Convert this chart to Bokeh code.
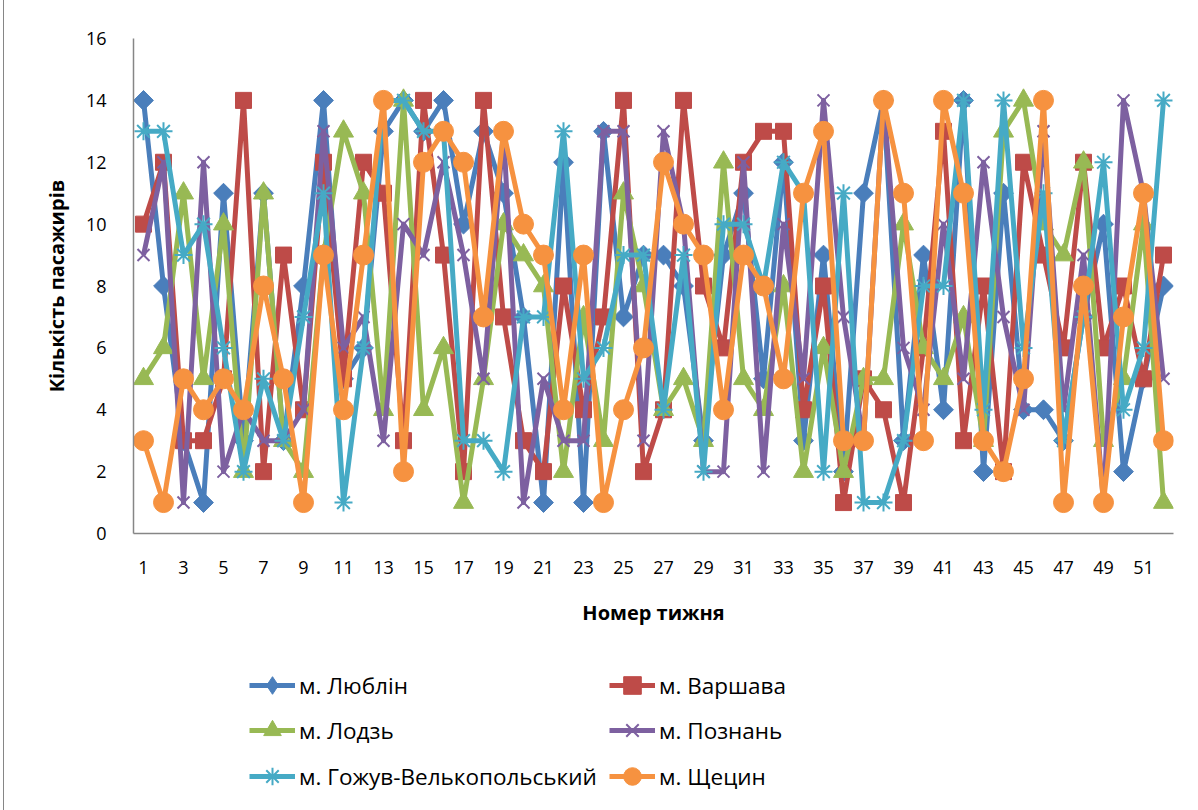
from bokeh.plotting import figure
from bokeh.models import FixedTicker, Legend, LegendItem, Range1d
from bokeh.layouts import column
from bokeh.embed import file_html
from bokeh.resources import INLINE
import math

weeks = list(range(1, 53))
lublin = [14,8,3,1,11,3,11,3,8,14,5,6,13,14,13,14,10,13,11,7,1,12,1,13,7,9,9,8,3,9,11,5,12,3,9,2,11,14,3,9,4,14,2,11,4,4,3,7,10,2,5,8]
warsaw = [10,12,3,3,5,14,2,9,4,12,5,12,11,3,14,9,2,14,7,3,2,8,4,7,14,2,4,14,8,6,12,13,13,4,8,1,5,4,1,6,13,3,8,2,12,9,6,12,6,8,5,9]
lodz = [5,6,11,5,10,2,11,3,2,9,13,11,4,14,4,6,1,5,10,9,8,2,7,3,11,8,4,5,3,12,5,4,8,2,6,2,5,5,10,6,5,7,3,13,14,10,9,12,3,5,10,1]
poznan = [9,12,1,12,2,4,3,3,4,13,6,7,3,10,9,12,9,5,13,1,5,3,3,13,13,3,13,10,2,2,12,2,10,5,14,7,3,14,6,4,10,5,12,7,4,13,4,9,1,14,11,5]
gorzow = [13,13,9,10,6,2,5,3,7,11,1,6,14,14,13,13,3,3,2,7,7,13,5,6,9,9,4,9,2,10,10,8,12,11,2,11,1,1,3,8,8,14,4,14,6,11,3,7,12,4,6,14]
szczecin = [3,1,5,4,5,4,8,5,1,9,4,9,14,2,12,13,12,7,13,10,9,4,9,1,4,6,12,10,9,4,9,8,5,11,13,3,3,14,11,3,14,11,3,2,5,14,1,8,1,7,11,3]

series_names = ["м. Люблін", "м. Варшава", "м. Лодзь", "м. Познань", "м. Гожув-Велькопольський", "м. Щецин"]
y_ticks = [0, 2, 4, 6, 8, 10, 12, 14, 16]
x_ticks = list(range(1, 53, 2))

FONT = "Open Sans"
BORDER = {"margin-left": "3px", "border-left": "1px solid #868686"}

p = figure(width=1195, height=640, output_backend="svg", toolbar_location=None,
           x_range=Range1d(0.5, 52.5), y_range=Range1d(0, 16),
           frame_width=1039, frame_height=495,
           min_border_left=129, min_border_top=38, min_border_right=27, min_border_bottom=107,
           styles=BORDER)
p.outline_line_color = None
p.xgrid.grid_line_color = None
p.ygrid.grid_line_color = None
p.background_fill_color = "white"
p.border_fill_color = "white"

for ax in (p.xaxis[0], p.yaxis[0]):
    ax.axis_line_color = "#868686"
    ax.axis_line_width = 1.5
    ax.major_tick_in = 0
    ax.major_tick_out = 0
    ax.minor_tick_in = 0
    ax.minor_tick_out = 0
    ax.major_label_text_font = FONT
    ax.major_label_text_font_size = "18px"
    ax.major_label_text_color = "black"
    ax.axis_label_text_font = FONT
    ax.axis_label_text_font_style = "bold"
    ax.axis_label_text_font_size = "20px"
    ax.axis_label_text_color = "black"

p.yaxis[0].ticker = FixedTicker(ticks=y_ticks)
p.xaxis[0].ticker = FixedTicker(ticks=x_ticks)
p.yaxis[0].axis_label = "Кількість пасажирів"
p.xaxis[0].axis_label = "Номер тижня"
p.yaxis[0].major_label_standoff = 27
p.xaxis[0].major_label_standoff = 27
p.yaxis[0].axis_label_standoff = 13
p.xaxis[0].axis_label_standoff = 22

colors = ["#4A7EBB", "#BE4B48", "#98B954", "#7D60A0", "#46AAC5", "#F69240"]
markers = ["square", "square", "triangle", "x", "asterisk", "circle"]
legend_markers = ["diamond", "square", "triangle", "x", "asterisk", "circle"]
sizes = [14, 16, 20, 17, 18, 20]
angles = [math.pi / 4, 0, 0, 0, 0, 0]
data = [lublin, warsaw, lodz, poznan, gorzow, szczecin]


def draw(fig, xs, ys, col, mk, sz, ang):
    lr = fig.line(xs, ys, line_color=col, line_width=5, line_join="round")
    if mk in ("x", "asterisk"):
        sr = fig.scatter(xs, ys, marker=mk, size=sz, line_color=col, line_width=2, fill_color=None)
    else:
        sr = fig.scatter(xs, ys, marker=mk, size=sz, angle=ang, fill_color=col, line_color=col, line_width=1)
    return [lr, sr]


for vals, col, mk, sz, ang in zip(data, colors, markers, sizes, angles):
    draw(p, weeks, vals, col, mk, sz, ang)

# legend panel (separate strip below the chart, same width)
LH = 170
lf = figure(width=1195, height=LH, output_backend="svg", toolbar_location=None,
            x_range=Range1d(0, 1), y_range=Range1d(0, 1),
            x_axis_location=None, y_axis_location=None,
            min_border=0, min_border_left=0, min_border_right=0, min_border_top=0, min_border_bottom=0,
            styles=BORDER)
lf.grid.visible = False
lf.outline_line_color = None
lf.border_fill_color = "white"

row_centers = [685, 730, 776]
col_x = [250, 610]
h = 44
for i, (name, col, mk, sz) in enumerate(zip(series_names, colors, legend_markers, sizes)):
    rs = draw(lf, [-5, -4], [-5, -5], col, mk, sz, 0)
    r, c = divmod(i, 2)
    top_in_lf = row_centers[r] - 640 - h / 2
    vy = LH - top_in_lf - h
    vx = col_x[c] - 3 - 131
    lg = Legend(items=[LegendItem(label=name, renderers=rs)], location=(vx, vy),
                orientation="vertical", padding=0, margin=0, spacing=0,
                glyph_width=46, glyph_height=h, label_height=h, label_standoff=4,
                label_text_font=FONT, label_text_font_size="22.5px", label_text_color="black",
                border_line_color=None, background_fill_alpha=0)
    lf.add_layout(lg, "center")

layout = column(p, lf, spacing=0)
open("out.html", "w").write(file_html(layout, INLINE))
